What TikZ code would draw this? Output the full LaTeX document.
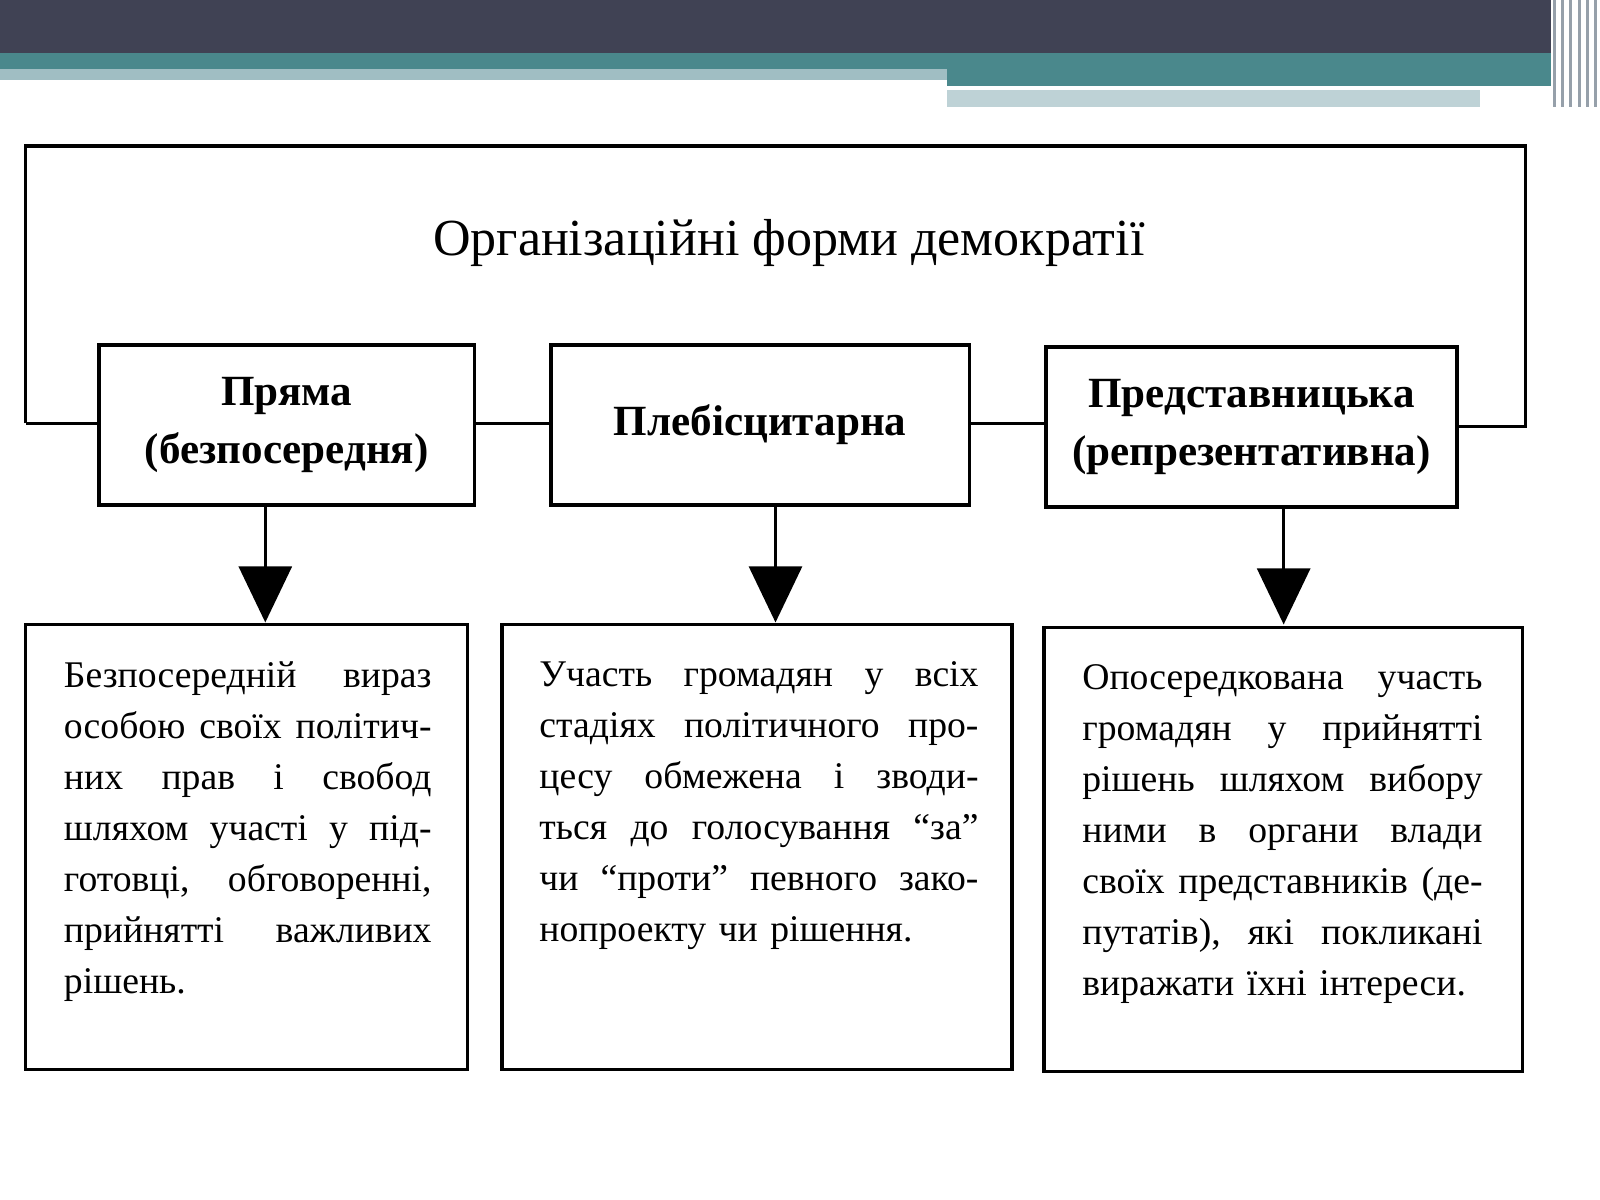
\documentclass[tikz,border=0pt]{standalone}
\usepackage{fontspec}
\setmainfont{Liberation Serif}
\usetikzlibrary{arrows.meta}
\begin{document}
\begin{tikzpicture}[x=0.01cm,y=-0.01cm,
 frame/.style={draw=black,line width=1pt},
 hbox/.style={frame,fill=white},
 body/.style={anchor=north west,align=left,text width=3.6cm,inner sep=0pt,font=\fontsize{10.5}{14.2}\selectfont},
 head/.style={align=center,font=\fontsize{12}{16}\selectfont\bfseries},
 arr/.style={line width=0.8pt,-{Triangle[length=0.55cm,width=0.52cm]}}]
\useasboundingbox (0,0) rectangle (1568,1176);
% header
\fill[fill={rgb,255:red,64;green,66;blue,84}] (0,0) rectangle (1520,52);
\fill[fill={rgb,255:red,74;green,136;blue,140}] (0,52) rectangle (1520,68);
\fill[fill={rgb,255:red,160;green,190;blue,195}] (0,68) rectangle (928,78);
\fill[fill={rgb,255:red,74;green,136;blue,140}] (928,68) rectangle (1520,84);
\fill[fill={rgb,255:red,190;green,210;blue,214}] (928,88) rectangle (1450,105);
\foreach \xx in {1522,1530,1538,1546,1554,1562}
 \fill[fill={rgb,255:red,150;green,160;blue,170}] (\xx,0) rectangle ++(3,105);
% frame
\draw[frame] (25,415) -- (25,143) -- (1495,143) -- (1495,418) -- (1428,418);
\node[font=\fontsize{14.5}{18}\selectfont] (title) at (773,238) {Організаційні форми демократії};
\draw[frame] (25,415) -- (97,415);
% boxes
\node[hbox,minimum width=3.68cm,minimum height=1.57cm,head] (b1) at (281,416.5) {Пряма\\(безпосередня)};
\node[hbox,minimum width=4.10cm,minimum height=1.57cm,head] (b2) at (745,416.5) {Плебісцитарна};
\node[hbox,minimum width=4.03cm,minimum height=1.57cm,head] (b3) at (1226.5,418.5) {Представницька\\(репрезентативна)};
\draw[frame] (b1.east |- 0,415) -- (b2.west |- 0,415);
\draw[frame] (b2.east |- 0,415) -- (b3.west |- 0,415);
% bottom boxes
\draw[frame] (25,612) rectangle (458,1048);
\draw[frame] (492,612) rectangle (992,1048);
\draw[frame] (1023,615) rectangle (1492,1050);
\coordinate (t1) at (260,610); \coordinate (t2) at (760,610); \coordinate (t3) at (1258,612);
\draw[arr] (b1.south -| t1) -- (t1);
\draw[arr] (b2.south -| t2) -- (t2);
\draw[arr] (b3.south -| t3) -- (t3);
\node[body] (d1) at (62,648) {Безпосередній\hfill вираз\\особою\hfill своїх\hfill політич-\\них\hfill прав\hfill і\hfill свобод\\шляхом\hfill участі\hfill у\hfill під-\\готовці,\hfill обговоренні,\\прийнятті\hfill важливих\\рішень.};
\node[body,text width=4.3cm] (d2) at (528,648) {Участь\hfill громадян\hfill у\hfill всіх\\стадіях\hfill політичного\hfill про-\\цесу\hfill обмежена\hfill і\hfill зводи-\\ться\hfill до\hfill голосування\hfill “за”\\чи\hfill “проти”\hfill певного\hfill зако-\\нопроекту чи рішення.};
\node[body,text width=3.92cm] (d3) at (1060,651) {Опосередкована\hfill участь\\громадян\hfill у\hfill прийнятті\\рішень\hfill шляхом\hfill вибору\\ними\hfill в\hfill органи\hfill влади\\своїх\hfill представників\hfill (де-\\путатів),\hfill які\hfill покликані\\виражати їхні інтереси.};
\end{tikzpicture}
\end{document}
